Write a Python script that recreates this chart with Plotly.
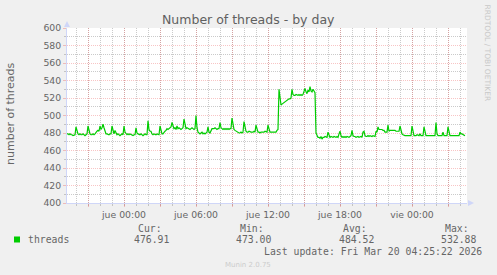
import pandas as pd
import plotly.graph_objects as go

# ---- data (5-minute samples starting Wed 2026-03-18 19:15) ----
start_time = "2026-03-18 19:15"
range_start = "2026-03-18 19:15"
range_end = "2026-03-20 04:35"

threads = (
    [479, 479, 478, 479, 478, 478, 477, 478, 478]                      # 19:15-19:55
    + [487, 481, 479, 478, 479, 478, 478, 479, 478, 477, 478, 479]     # 20
    + [488, 482, 479, 478, 478, 479, 478, 479, 481, 482, 483, 482]     # 21
    + [488, 484, 486, 490, 486, 481, 479, 479, 478, 478, 479, 479]     # 22
    + [488, 481, 479, 483, 480, 478, 479, 478, 477, 478, 479, 478]     # 23
    + [488, 481, 479, 478, 479, 478, 479, 478, 478, 477, 478, 478]     # jue 00
    + [486, 480, 479, 478, 478, 479, 478, 477, 478, 479, 478, 478]     # 01
    + [494, 484, 482, 482, 479, 478, 479, 478, 478, 479, 478, 478]     # 02
    + [488, 481, 479, 479, 481, 482, 483, 485, 484, 485, 486, 487]     # 03
    + [492, 487, 485, 486, 484, 488, 485, 486, 485, 484, 485, 486]     # 04
    + [496, 489, 485, 486, 485, 485, 484, 485, 486, 485, 484, 485]     # 05
    + [500, 486, 481, 480, 479, 480, 481, 479, 480, 479, 480, 481]     # 06
    + [487, 481, 480, 484, 485, 485, 485, 486, 485, 484, 485, 485]     # 07
    + [492, 486, 485, 484, 485, 484, 485, 484, 485, 484, 485, 485]     # 08
    + [497, 488, 484, 483, 482, 481, 480, 480, 480, 481, 480, 481]     # 09
    + [493, 486, 482, 481, 481, 482, 481, 481, 481, 481, 482, 481]     # 10
    + [489, 483, 481, 481, 480, 481, 481, 481, 481, 482, 481, 481]     # 11
    + [489, 483, 481, 481, 481, 481, 481, 481, 481, 483, 484, 530]     # 12
    + [522, 512, 513, 514, 515, 516, 517, 517, 518, 519, 519, 520]     # 13
    + [530, 524, 523, 523, 524, 523, 523, 524, 523, 524, 523, 524]     # 14
    + [529, 531, 527, 525, 529, 527, 532.88, 528, 527, 530, 528, 526]  # 15
    + [480, 476, 475, 475, 474, 476, 473, 475, 475, 476, 475, 475]     # 16
    + [481, 477, 475, 476, 475, 475, 476, 475, 475, 476, 475, 479]     # 17
    + [482, 477, 475, 476, 475, 476, 475, 476, 475, 475, 476, 477]     # 18
    + [483, 477, 476, 476, 475, 476, 476, 475, 476, 476, 475, 481]     # 19
    + [482, 477, 476, 476, 477, 476, 477, 476, 476, 477, 476, 476]     # 20
    + [482, 481, 487, 484, 484, 484, 484, 483, 483, 481, 481, 481]     # 21
    + [489, 482, 483, 483, 483, 483, 483, 483, 482, 482, 482, 482]     # 22
    + [488, 483, 479, 478, 477, 477, 477, 477, 477, 477, 477, 477]     # 23
    + [488, 480, 477, 477, 477, 478, 477, 477, 479, 477, 477, 477]     # vie 00
    + [487, 480, 477, 477, 477, 477, 477, 477, 477, 477, 477, 477]     # 01
    + [492, 479, 477, 477, 477, 477, 477, 481, 477, 477, 477, 477]     # 02
    + [487, 479, 477, 477, 477, 477, 477, 477, 477, 477, 477, 477]     # 03
    + [481, 479, 479, 478, 477, 476.91]                                # 04
)

tick_times = ["2026-03-18 21:00", "2026-03-19 00:00", "2026-03-19 03:00",
              "2026-03-19 06:00", "2026-03-19 09:00", "2026-03-19 12:00",
              "2026-03-19 15:00", "2026-03-19 18:00", "2026-03-19 21:00",
              "2026-03-20 00:00", "2026-03-20 03:00"]
tick_labels = ["", "jue 00:00", "", "jue 06:00", "", "jue 12:00", "",
               "jue 18:00", "", "vie 00:00", ""]

y_min, y_max = 400, 600

stat_names = ["Cur:", "Min:", "Avg:", "Max:"]
stat_values = ["476.91", "473.00", "484.52", "532.88"]
series_name = "threads"
last_update = "Last update: Fri Mar 20 04:25:22 2026"

times = pd.date_range(start_time, periods=len(threads), freq="5min")

# ---- styling ----
W, H = 497, 275
L, R, T, B = 67, 30, 28, 72
PW, PH = W - L - R, H - T - B
FONT = "DejaVu Sans"
MONO = "DejaVu Sans Mono"
FC = "#666666"
AXIS = "#CFD6F8"
MAJ = "rgba(235,80,80,0.33)"
MIN = "rgba(150,150,150,0.5)"


def px(x):
    return (x - L) / PW


def py(y):
    return (T + PH - y) / PH


fig = go.Figure()
fig.add_trace(go.Scatter(x=times, y=threads, mode="lines",
                         line=dict(color="#00CC00", width=1.2),
                         hoverinfo="skip", showlegend=False))

fig.update_layout(
    width=W, height=H,
    margin=dict(l=L, r=R, t=T, b=B, pad=0),
    paper_bgcolor="#F0F0F0", plot_bgcolor="#FFFFFF",
    font=dict(family=FONT, size=9.3, color=FC),
    showlegend=False,
)

fig.update_xaxes(
    type="date", range=[range_start, range_end],
    tickmode="array", tickvals=tick_times, ticktext=tick_labels,
    showgrid=True, gridcolor=MAJ, griddash="1px,1px", gridwidth=1,
    ticks="outside", ticklen=3, tickcolor=MAJ, tickwidth=1,
    showline=True, linecolor=AXIS, linewidth=1,
    zeroline=False,
    tickfont=dict(family=FONT, size=9.3, color=FC),
    minor=dict(dtick=3600000, tick0="2026-03-18 20:00", showgrid=True,
               gridcolor=MIN, griddash="1px,1px", gridwidth=1,
               ticks="outside", ticklen=2, tickcolor=MIN),
)
fig.update_yaxes(
    range=[y_min, y_max], tick0=400, dtick=20,
    showgrid=True, gridcolor=MAJ, griddash="1px,1px", gridwidth=1,
    ticks="outside", ticklen=3, tickcolor=MAJ, tickwidth=1,
    showline=True, linecolor=AXIS, linewidth=1,
    zeroline=False,
    tickfont=dict(family=FONT, size=9.3, color=FC),
    minor=dict(dtick=10, showgrid=True, gridcolor=MIN, griddash="1px,1px",
               gridwidth=1, ticks="outside", ticklen=2, tickcolor=MIN),
)

# axis arrows
fig.add_shape(type="path", xref="paper", yref="paper",
              path=f"M {px(64)},{py(27)} L {px(70)},{py(27)} L {px(67)},{py(21)} Z",
              fillcolor=AXIS, line=dict(color=AXIS, width=0))
fig.add_shape(type="path", xref="paper", yref="paper",
              path=f"M {px(468)},{py(200)} L {px(468)},{py(206)} L {px(474)},{py(203)} Z",
              fillcolor=AXIS, line=dict(color=AXIS, width=0))
fig.add_shape(type="rect", xref="paper", yref="paper",
              x0=px(14), x1=px(20), y0=py(242.5), y1=py(236.5),
              fillcolor="#00CC00", line=dict(width=0))


def ann(text, x, y, size=9.8, family=MONO, color=FC, xanchor="left", angle=0):
    fig.add_annotation(text=text, x=px(x), y=py(y), xref="paper", yref="paper",
                       xanchor=xanchor, yanchor="middle", showarrow=False,
                       textangle=angle, borderpad=0,
                       font=dict(family=family, size=size, color=color))


ann("Number of threads - by day", 248.5, 19.5, size=12.5, family=FONT,
    color="#606060", xanchor="center")
ann("number of threads", 10, 114, size=11, family=FONT, xanchor="center", angle=-90)
ann("RRDTOOL / TOBI OETIKER", 487.5, 53, size=7.5, family=FONT, color="#C8C8C8",
    xanchor="center", angle=90)
ann("Munin 2.0.75", 248, 264.5, size=7, family=FONT, color="#CCCCCC", xanchor="center")

ann(series_name, 26.5, 239.5)
name_right = [163, 265, 368, 470]
val_right = [170, 272, 374.5, 476.5]
for nm, vv, nr, vr in zip(stat_names, stat_values, name_right, val_right):
    ann(nm, nr, 228, xanchor="right")
    ann(vv, vr, 239.5, xanchor="right")
ann(last_update, 483, 251, xanchor="right")

fig.write_html("out.html")
